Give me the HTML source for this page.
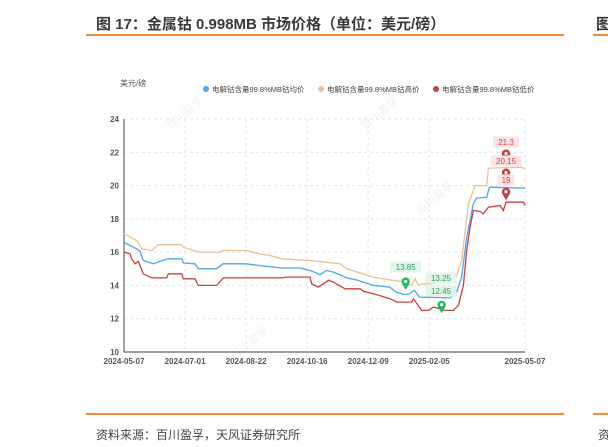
<!DOCTYPE html>
<html><head><meta charset="utf-8"><style>
body{margin:0;width:608px;height:447px;background:#fff;overflow:hidden;position:relative;font-family:"Liberation Sans","Noto Sans CJK SC",sans-serif}
.t{position:absolute;white-space:nowrap}
</style></head><body>
<div class="t" style="left:96px;top:13px;font-size:15px;font-weight:bold;color:#3a3a3a">图 17：金属钴 0.998MB 市场价格（单位：美元/磅）</div>
<div style="position:absolute;left:86px;top:34px;width:478px;height:2px;background:#f28c38"></div>
<div class="t" style="left:596px;top:13px;font-size:15px;font-weight:bold;color:#333">图</div>
<div style="position:absolute;left:593px;top:34px;width:15px;height:2px;background:#f28c38"></div>
<div style="position:absolute;left:86px;top:413px;width:478px;height:2px;background:#f28c38"></div>
<div style="position:absolute;left:593px;top:413px;width:15px;height:2px;background:#f28c38"></div>
<div class="t" style="left:96px;top:426px;font-size:12px;color:#444">资料来源：百川盈孚，天风证券研究所</div>
<div class="t" style="left:598px;top:426px;font-size:12px;color:#444">资</div>
<svg id="c" width="608" height="447" style="position:absolute;left:0;top:0" font-family="Liberation Sans, Noto Sans CJK SC, sans-serif"></svg>
<script>
const xTicks=["2024-05-07","2024-07-01","2024-08-22","2024-10-16","2024-12-09","2025-02-05","2025-05-07"];
const xTickIdx=[0,37,74,111,148,185,243];
const yTicks=[10,12,14,16,18,20,22,24];
const avgIdx=[0,7.7,9.7,11.7,17.8,21.8,26.9,35,36,43,45,56,60,74,82,95.5,106.7,112.7,118.8,122.8,126.9,135,142,151,161,165,170,173,176,179,197.6,201.6,204.6,207.7,209.7,211.7,213.7,219.8,221.4,243];
const avgVal=[16.58,16.2,16.05,15.5,15.3,15.45,15.6,15.6,15.35,15.3,15.0,15.0,15.3,15.3,15.2,15.05,15.05,14.9,14.65,14.9,14.8,14.45,14.3,14.0,13.9,13.6,13.45,13.5,13.7,13.3,13.25,13.6,14.5,16.9,17.9,18.9,19.25,19.3,19.9,19.85];
const highIdx=[0,7.7,10.7,16.8,20.8,35,36,45,58,60,74,82,88.5,95.5,112.7,131,135,151,163,169,174.3,176.4,178.4,180.4,184.4,200.6,204.6,208.7,211.7,212.7,219.8,220.8,241,243];
const highVal=[17.1,16.7,16.2,16.1,16.45,16.45,16.3,16.0,16.0,16.1,16.1,15.9,15.8,15.6,15.5,15.3,15.0,14.5,14.3,14.25,14.0,14.4,14.0,14.1,14.1,14.3,15.5,18.9,19.7,20.0,20.0,21.05,21.1,21.0];
const lowZx=[72,90,95,105,115,130,155,200,205,245,250,285,295,350,370,550,555,630,635,655,685,700,735,780,790,820,870,890,935,940,965,985,1000,1020,1025,1060,1075,1090,1100,1110,1120,1140,1150,1165,1200,1210,1218,1270,1275];
const lowVal=[16.0,15.9,15.6,15.3,15.45,14.7,14.45,14.45,14.7,14.7,14.4,14.4,14.0,14.0,14.45,14.45,14.5,14.5,14.1,13.9,14.3,14.2,13.8,13.8,13.65,13.5,13.2,13.0,13.0,13.2,12.5,12.5,12.7,12.6,12.5,12.5,12.8,14.0,16.1,17.5,18.5,18.45,18.3,18.7,18.8,18.5,19.0,19.0,18.8];
const lowIdx=lowZx.map(z=>(z-72)/4.95);
const maxIdx=231.5, maxVals=[21.3,20.15,19];
const minIdx=[170.7,192.5], minVals=[13.85,12.45];

const X0=124,X1=525,Y0=352,Y1=119;
const xs=i=>X0+i*(X1-X0)/243;
const ys=v=>Y0-(v-10)*(Y0-Y1)/14;
const svg=document.getElementById('c');
const NS="http://www.w3.org/2000/svg";
function mk(tag,at,parent){const e=document.createElementNS(NS,tag);for(const k in at)e.setAttribute(k,at[k]);(parent||svg).appendChild(e);return e;}
[[170,130],[365,130],[235,360],[420,215]].forEach(p=>{
 const w=mk('text',{x:p[0],y:p[1],transform:`rotate(-40 ${p[0]} ${p[1]})`,'font-size':11,fill:'#f0f0f0'});w.textContent='百川盈孚';
 
 
});
yTicks.forEach(v=>{
 if(v>10){const g=mk('line',{x1:X0,x2:X1,y1:ys(v),y2:ys(v),stroke:'#dde6f3','stroke-dasharray':'3,3'});
 
 }
 const t=mk('text',{x:X0-5,y:ys(v)+3,'text-anchor':'end','font-size':8,'font-weight':'bold',fill:'#555'});t.textContent=v;
 
 
});
xTickIdx.forEach((ix,k)=>{
 if(ix>0){const g=mk('line',{x1:xs(ix),x2:xs(ix),y1:Y1,y2:Y0,stroke:'#dde6f3','stroke-dasharray':'3,3'});
 
 }
 const t=mk('text',{x:xs(ix),y:Y0+12,'text-anchor':'middle','font-size':8,'font-weight':'bold',fill:'#555'});t.textContent=xTicks[k];
 
 
});
const ya=mk('line',{x1:X0,x2:X0,y1:Y1,y2:Y0,stroke:'#666','stroke-width':1.2});


const xa=mk('line',{x1:X0,x2:X1,y1:Y0,y2:Y0,stroke:'#666','stroke-width':1.2});


const ut=mk('text',{x:120,y:86,'font-size':8,fill:'#555'});ut.textContent='美元/磅';


function line(ix,vals,col,name){
 let d='';ix.forEach((x,i)=>{d+=(i?'L':'M')+xs(x).toFixed(1)+','+ys(vals[i]).toFixed(1);});
 const p=mk('path',{d,fill:'none',stroke:col,'stroke-width':1.3});
 
 
}
line(highIdx,highVal,'#e9c38f','series-high');
line(avgIdx,avgVal,'#4da6f0','series-avg');
line(lowIdx,lowVal,'#c9403f','series-low');
const leg=[['电解钴含量99.8%MB钴均价','#4da6f0',206],['电解钴含量99.8%MB钴高价','#e9c38f',321],['电解钴含量99.8%MB钴低价','#c9403f',436]];
leg.forEach(l=>{
 const c=mk('circle',{cx:l[2],cy:89,r:3,fill:l[1]});
 
 
 const t=mk('text',{x:l[2]+6,y:92,'font-size':7.5,fill:'#444'});t.textContent=l[0];
 
 
});
function pin(x,y,col){
 const p=mk('path',{d:`M${x},${y} L${x-3.5},${y-6} A4.2,4.2 0 1,1 ${x+3.5},${y-6} Z`,fill:col});
 
 
 const c=mk('circle',{cx:x,cy:y-8.5,r:1.6,fill:'#fff'});
 
 
}
function tag(cx,cy,txt,bg,fg){
 const w=txt.length*5+6;
 const r=mk('rect',{x:cx-w/2,y:cy-5.5,width:w,height:11,fill:bg});
 
 
 const t=mk('text',{x:cx,y:cy+3,'text-anchor':'middle','font-size':8,fill:fg});t.textContent=txt;
 
 
}
maxVals.forEach(v=>pin(xs(maxIdx),ys(v)-2,'#c9403f'));
tag(xs(maxIdx),142,String(maxVals[0]),'#fbe3e3','#d0454a');
tag(xs(maxIdx),161,String(maxVals[1]),'#fbe3e3','#d0454a');
tag(xs(maxIdx),180,String(maxVals[2]),'#fbe3e3','#d0454a');
tag(xs(minIdx[0]),267,'13.85','#e3f5e9','#25a85a');
tag(441,278,'13.25','#e3f5e9','#25a85a');
tag(441,291,'12.45','#e3f5e9','#25a85a');
minVals.forEach((v,i)=>pin(xs(minIdx[i]),ys(v)+2,'#1dbb62'));
</script>
</body></html>
